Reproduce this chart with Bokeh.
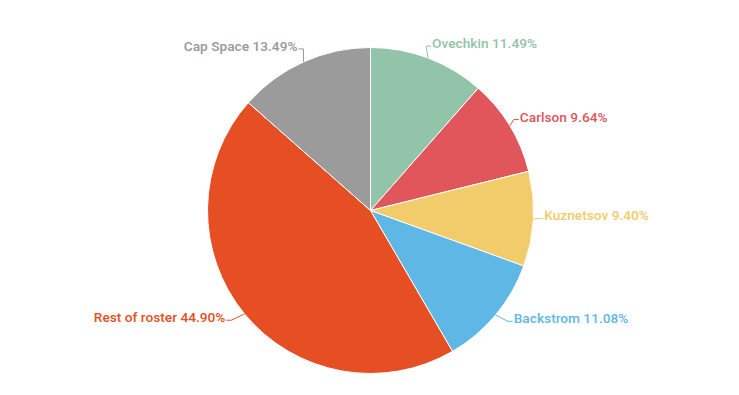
import math
from bokeh.plotting import figure
from bokeh.models import Range1d, ColumnDataSource
from bokeh.core.properties import value
from bokeh.embed import file_html
from bokeh.resources import INLINE

# ---- data ----
names = ["Ovechkin", "Carlson", "Kuznetsov", "Backstrom", "Rest of roster", "Cap Space"]
shares = [11.49, 9.64, 9.40, 11.08, 44.90, 13.49]
colors = ["#91c4a8", "#e0565b", "#f2cb6b", "#5fb7e5", "#e64f24", "#9b9b9b"]
label_colors = ["#91c4a8", "#e0565b", "#f2cb6b", "#5fb7e5", "#e64f24", "#999999"]

# ---- layout (label nudges in screen px: +x right, +y down) ----
label_nudge = [(-2, 1), (-4.5, -0.5), (-6, -4.5), (5, -7.5), (-6, -7.5), (1, -0.5)]

W, H = 723, 379
CX, CY = 370, H - 210
R = 163
LD = R + 17

p = figure(width=W, height=H, output_backend="svg", toolbar_location=None,
           x_range=Range1d(0, W), y_range=Range1d(0, H), min_border=0)
p.axis.visible = False
p.grid.visible = False
p.outline_line_color = None
p.background_fill_color = "white"
p.border_fill_color = "white"

total = sum(shares)
starts, ends, mids = [], [], []
cum = 0.0
for s in shares:
    a0 = math.pi / 2 - 2 * math.pi * cum / total
    cum += s
    a1 = math.pi / 2 - 2 * math.pi * cum / total
    starts.append(a0)
    ends.append(a1)
    mids.append((a0 + a1) / 2)

src = ColumnDataSource(dict(start=starts, end=ends, color=colors))
p.wedge(x=CX, y=CY, radius=R, start_angle="start", end_angle="end",
        direction="clock", fill_color="color", line_color="white", line_width=1,
        source=src)

# labels + connectors
tx, ty, tt, tc, ta = [], [], [], [], []
for name, s, m, lc, (ndx, ndy) in zip(names, shares, mids, label_colors, label_nudge):
    cx, cy = math.cos(m), math.sin(m)
    right = cx >= 0
    x0, y0 = CX + R * cx, CY + R * cy
    lx = CX + LD * cx + ndx
    ly = CY + LD * cy - ndy
    ex = lx + (-1 if right else 1)
    ey = ly - 3
    mx = ex + (-5 if right else 5)
    my = ey
    p.line([x0, mx, ex], [y0, my, ey], line_color=lc, line_width=1)
    tx.append(lx)
    ty.append(ly)
    tt.append(f"{name} {s:.2f}%")
    tc.append(lc)
    ta.append("left" if right else "right")

tsrc = ColumnDataSource(dict(x=tx, y=ty, text=tt, color=tc, align=ta))
p.text(x="x", y="y", text="text", text_color="color", text_align="align",
       text_baseline="middle", text_font=value("'Roboto Medium', Roboto"),
       text_font_size="13.7px", source=tsrc)

open("out.html", "w").write(file_html(p, INLINE))
